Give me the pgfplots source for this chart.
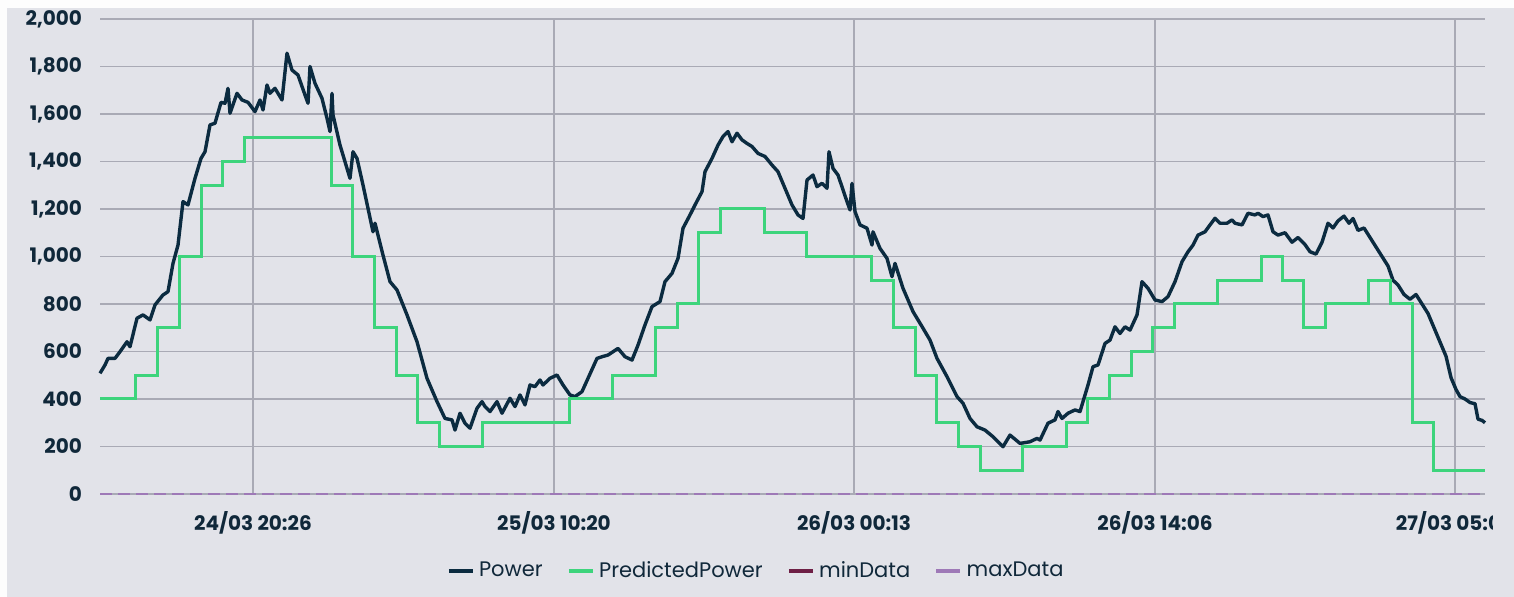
\documentclass[border=0pt]{standalone}
\usepackage{pgfplots}
\pgfplotsset{compat=1.18}
\usepackage{fontspec}
\setmainfont{Poppins}
\definecolor{bg}{HTML}{E2E3E9}
\definecolor{navy}{HTML}{0B2B40}
\definecolor{pgreen}{HTML}{3DD47C}
\definecolor{gridc}{HTML}{A9AAB5}
\definecolor{minc}{HTML}{6E1F45}
\definecolor{maxc}{HTML}{9B6DB8}
\definecolor{labc}{HTML}{10283A}
\begin{document}
\begin{tikzpicture}
\useasboundingbox (0pt,0pt) rectangle (757pt,298.5pt);
\fill[white!92!bg] (0pt,0pt) rectangle (757pt,298.5pt);
\fill[bg] (3.5pt,0pt) rectangle (757pt,294.5pt);
\begin{scope}
\clip (0pt,0pt) rectangle (746pt,298.5pt);
\begin{axis}[
  at={(50pt,51.5pt)}, anchor=south west,
  scale only axis, width=692.5pt, height=237.5pt,
  xmin=100, xmax=1485, ymin=0, ymax=2000,
  clip=false,
  axis line style={draw=none},
  major tick length=0pt,
  grid=major,
  major grid style={gridc, line width=0.75pt},
  ytick={0,200,...,2000},
  xtick={253,554,854,1155,1455},
  xticklabels={24/03 20:26, 25/03 10:20, 26/03 00:13, 26/03 14:06, 27/03 05:00},
  /pgf/number format/assume math mode=true,
  /pgf/number format/1000 sep={,},
  yticklabel style={font=\bfseries\fontsize{10}{12}\selectfont, text=labc, xshift=-5.5pt},
  xticklabel style={font=\bfseries\fontsize{10}{12}\selectfont, text=labc, yshift=-5pt},
  legend columns=4,
  legend style={draw=none, fill=none, at={(0.4744,-0.162)}, anchor=center,
    font=\fontsize{10.5}{12}\selectfont, text=labc,
    /tikz/every even column/.append style={column sep=10pt}},
  legend image code/.code={\draw[#1, solid, line width=2.2pt] (0pt,0pt) -- (12pt,0pt);},
]
\addplot[navy, line width=1.7pt, line join=round] table {
x y
100 508
105 543
108 571
115 571
120 599
127 641
130 620
137 740
143 754
150 733
155 796
163 838
168 852
173 971
178 1048
183 1231
188 1217
195 1329
201 1413
205 1441
210 1554
215 1561
221 1649
225 1645
228 1708
230 1603
237 1687
242 1659
248 1649
255 1610
260 1659
263 1617
267 1722
270 1687
275 1708
282 1659
287 1856
292 1785
298 1764
305 1680
308 1645
310 1800
315 1729
322 1666
327 1582
330 1526
332 1687
333 1596
340 1469
350 1329
353 1441
357 1413
363 1301
373 1104
375 1140
383 1006
390 894
397 859
407 754
417 641
427 487
437 389
445 318
452 312
455 269
460 340
465 298
470 277
477 361
482 389
485 368
490 347
497 389
502 340
510 403
515 368
520 417
525 375
530 459
535 452
540 480
543 459
550 487
557 501
563 459
570 417
575 410
582 431
588 487
597 571
602 578
608 585
613 599
618 613
625 578
632 564
638 627
645 712
652 789
660 810
665 894
672 929
678 992
683 1119
690 1175
695 1217
702 1273
705 1357
712 1413
718 1469
723 1505
728 1526
732 1483
737 1519
742 1491
747 1476
752 1463
758 1434
765 1421
772 1385
778 1357
785 1287
792 1217
798 1175
803 1160
807 1322
813 1343
817 1294
822 1308
827 1287
829 1441
833 1371
838 1343
847 1231
850 1196
852 1308
855 1189
860 1133
867 1119
872 1048
873 1104
880 1034
887 992
892 915
895 971
903 866
913 768
923 698
930 648
937 571
947 494
957 410
963 382
970 318
977 283
985 269
993 241
1003 199
1010 248
1020 213
1030 220
1037 234
1040 227
1048 298
1055 312
1058 347
1062 318
1068 340
1075 354
1080 347
1085 417
1088 459
1093 536
1098 543
1105 634
1110 648
1115 704
1120 676
1125 704
1130 690
1137 754
1142 894
1148 866
1155 817
1162 810
1168 831
1175 894
1182 978
1188 1020
1193 1048
1198 1090
1205 1104
1210 1133
1215 1161
1220 1140
1227 1140
1232 1154
1235 1140
1242 1133
1248 1182
1255 1175
1258 1182
1263 1168
1268 1175
1273 1104
1278 1090
1285 1100
1292 1060
1298 1080
1305 1050
1310 1020
1316 1010
1322 1060
1328 1140
1333 1120
1338 1150
1344 1170
1349 1140
1353 1160
1358 1110
1364 1120
1370 1080
1376 1040
1382 1000
1388 960
1393 900
1398 880
1404 840
1410 820
1416 840
1422 800
1428 760
1434 700
1440 640
1446 580
1451 490
1456 440
1460 410
1465 400
1470 385
1475 380
1478 315
1482 310
1485 300
};
\addlegendentry{Power}
\addplot[pgreen, line width=1.5pt, const plot] table {
x y
100 400
135 500
157 700
179 1000
201 1300
222 1400
244 1500
331 1300
352 1000
374 700
396 500
417 300
439 200
482 300
569 400
612 500
655 700
677 800
698 1100
720 1200
764 1100
806 1000
871 900
893 700
915 500
936 300
958 200
980 100
1022 200
1066 300
1087 400
1109 500
1131 600
1152 700
1174 800
1217 900
1261 1000
1282 900
1303 700
1325 800
1368 900
1390 800
1412 300
1433 100
1485 100
};
\addlegendentry{PredictedPower}
\addplot[minc, line width=1.2pt, dash pattern=on 6pt off 3pt] coordinates {(100,0) (1485,0)};
\addlegendentry{minData}
\addplot[maxc!80!gridc, line width=1.2pt, dash pattern=on 6pt off 3pt] coordinates {(100,0) (1485,0)};
\addlegendentry{maxData}
\end{axis}
\end{scope}
\end{tikzpicture}
\end{document}
